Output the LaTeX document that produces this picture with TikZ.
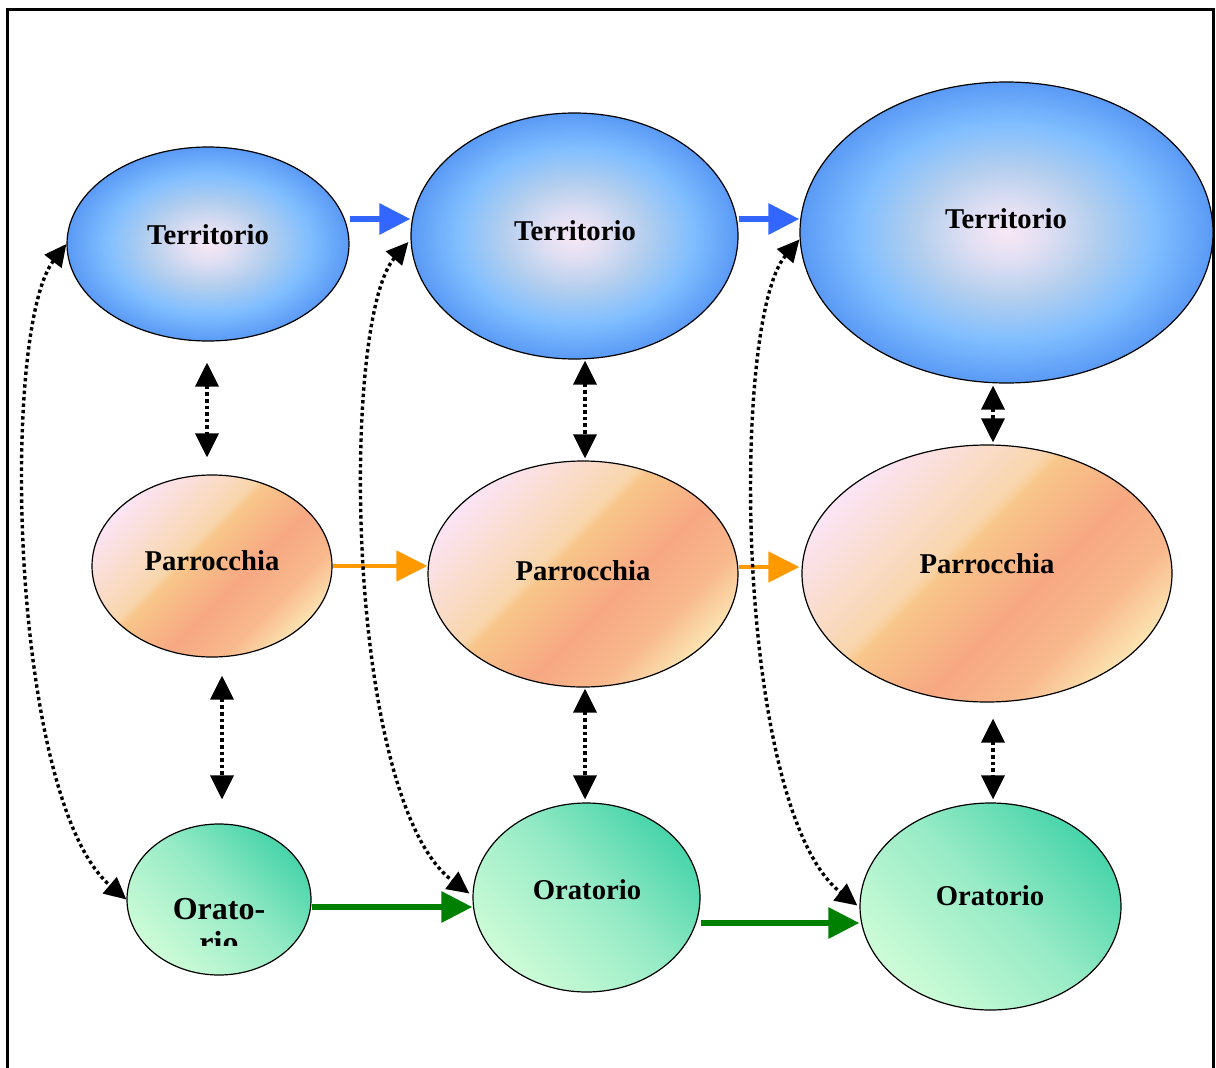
\documentclass[tikz,border=0pt]{standalone}
\usepackage{fontspec}
\setmainfont{Liberation Serif}
\usetikzlibrary{arrows.meta,shapes.geometric}
\definecolor{tc0}{RGB}{248,232,246}
\definecolor{tc1}{RGB}{222,222,242}
\definecolor{tc2}{RGB}{178,206,238}
\definecolor{tc3}{RGB}{128,190,255}
\definecolor{tc4}{RGB}{90,154,245}
\definecolor{pc0}{RGB}{251,228,244}
\definecolor{pc1}{RGB}{249,214,172}
\definecolor{pc2}{RGB}{248,198,138}
\definecolor{pc3}{RGB}{247,168,130}
\definecolor{pc4}{RGB}{248,184,140}
\definecolor{pc5}{RGB}{252,226,176}
\definecolor{oc0}{RGB}{205,252,215}
\definecolor{oc1}{RGB}{150,235,198}
\definecolor{oc2}{RGB}{72,212,170}
\definecolor{arrblue}{RGB}{51,102,255}
\definecolor{arrorange}{RGB}{255,153,0}
\definecolor{arrgreen}{RGB}{0,128,0}
\pgfdeclareradialshading{terrshade}{\pgfpoint{0bp}{0bp}}{color(0bp)=(tc0); color(5bp)=(tc1); color(11bp)=(tc2); color(18bp)=(tc3); color(25bp)=(tc4); color(50bp)=(tc4)}
\pgfdeclarehorizontalshading{parrshade}{100bp}{color(0bp)=(pc0); color(25bp)=(pc0); color(43bp)=(pc1); color(45bp)=(pc2); color(57bp)=(pc3); color(67bp)=(pc4); color(75bp)=(pc5); color(100bp)=(pc5)}
\pgfdeclarehorizontalshading{oratshade}{100bp}{color(0bp)=(oc0); color(25bp)=(oc0); color(52bp)=(oc1); color(75bp)=(oc2); color(100bp)=(oc2)}
\tikzset{
  ell/.style={ellipse, draw=black, line width=1.2pt, inner sep=0pt, shade},
  terr/.style={ell, shading=terrshade},
  parr/.style={ell, shading=parrshade, shading angle=-45},
  orat/.style={ell, shading=oratshade, shading angle=45},
  lbl/.style={font=\fontsize{28.7}{34}\selectfont\bfseries, inner sep=0pt},
  biglbl/.style={font=\fontsize{32}{38}\selectfont\bfseries, inner sep=0pt},
  harr/.style={line width=6pt, -{Triangle[length=31pt,width=30pt]}},
  dotarr/.style={line width=3.6pt, dash pattern=on 3.6pt off 3pt,
    {Triangle[length=24pt,width=23pt]}-{Triangle[length=24pt,width=23pt]}},
  curvarr/.style={line width=3.4pt, dash pattern=on 3.4pt off 3pt,
    {Triangle[length=22pt,width=21pt]}-{Triangle[length=22pt,width=21pt]}},
}
\begin{document}
\begin{tikzpicture}[x=1pt,y=-1pt]
\useasboundingbox (0,0) rectangle (1216,1068);
\fill[white] (0,0) rectangle (1216,1068);
\draw[line width=3pt] (7,1075) -- (7,9) -- (1213,9) -- (1213,1075);

% ellipses
\node[terr, minimum width=282pt, minimum height=194pt] (T1) at (208,244) {};
\node[terr, minimum width=327pt, minimum height=246pt] (T2) at (574.5,236) {};
\node[terr, minimum width=413pt, minimum height=301pt] (T3) at (1006.5,232.5) {};
\node[parr, minimum width=240pt, minimum height=182pt] (P1) at (212,566) {};
\node[parr, minimum width=310pt, minimum height=226pt] (P2) at (583,574) {};
\node[parr, minimum width=370pt, minimum height=257pt] (P3) at (987,573.5) {};
\node[orat, minimum width=184pt, minimum height=151pt] (O1) at (219,899.5) {};
\node[orat, minimum width=227pt, minimum height=189pt] (O2) at (586.5,897.5) {};
\node[orat, minimum width=261pt, minimum height=207pt] (O3) at (990.5,906.5) {};

% labels
\node[lbl] (T1t) at (208,235) {Territorio};
\node[lbl] (T2t) at (575,231) {Territorio};
\node[lbl] (T3t) at (1006,219) {Territorio};
\node[lbl] (P1t) at (212,561) {Parrocchia};
\node[lbl] (P2t) at (583,571) {Parrocchia};
\node[lbl] (P3t) at (987,564) {Parrocchia};
\begin{scope}
  \clip (120,860) rectangle (320,945);
  \node[biglbl, anchor=base] (O1t) at (219,919) {Orato-};
  \node[biglbl, anchor=base] (O1u) at (219,953) {rio};
\end{scope}
\node[lbl] (O2t) at (587,890) {Oratorio};
\node[lbl] (O3t) at (990,896) {Oratorio};

% horizontal arrows
\draw[harr, arrblue] ([yshift=25pt]T1.east) -- ([yshift=17pt]T2.west);
\draw[harr, arrblue] ([yshift=17pt]T2.east) -- ([yshift=13.5pt]T3.west);
\draw[harr, arrorange, line width=4.5pt] (P1.east) -- ([yshift=8pt]P2.west);
\draw[harr, arrorange, line width=4.5pt, shorten >=2pt] ([yshift=7pt]P2.east) -- ([yshift=6.5pt]P3.west);
\draw[harr, arrgreen] ([yshift=-7.5pt]O1.east) -- ([yshift=-9.5pt]O2.west);
\draw[harr, arrgreen] ([yshift=-25.5pt]O2.east) -- ([yshift=-16.5pt]O3.west);

% vertical dotted double arrows
\draw[dotarr, shorten <=21pt, shorten >=17pt] ([xshift=-1pt]T1.south) -- ([xshift=-5pt]P1.north);
\draw[dotarr, shorten <=18pt, shorten >=24pt] ([xshift=10pt]P1.south) -- ([xshift=3pt]O1.north);
\draw[dotarr, shorten <=1pt, shorten >=2pt] ([xshift=10.5pt]T2.south) -- ([xshift=2pt]P2.north);
\draw[dotarr, shorten <=1pt, shorten >=3pt] ([xshift=2pt]P2.south) -- ([xshift=-1.5pt]O2.north);
\draw[dotarr, shorten <=2pt, shorten >=2pt] ([xshift=-13.5pt]T3.south) -- ([xshift=6pt]P3.north);
\draw[dotarr, shorten <=16pt, shorten >=3pt] ([xshift=6pt]P3.south) -- ([xshift=2.5pt]O3.north);

% curved dotted double arrows
\draw[curvarr] (T1.west) .. controls (0,330) and (10,800) .. (O1.west);
\draw[curvarr] ([yshift=-6pt,xshift=-2pt]T2.west) .. controls (340,320) and (345,800) .. ([yshift=4pt,xshift=-3pt]O2.west);
\draw[curvarr] ([yshift=-7pt]T3.west) .. controls (730,320) and (735,810) .. ([yshift=1pt,xshift=-2pt]O3.west);
\end{tikzpicture}
\end{document}
